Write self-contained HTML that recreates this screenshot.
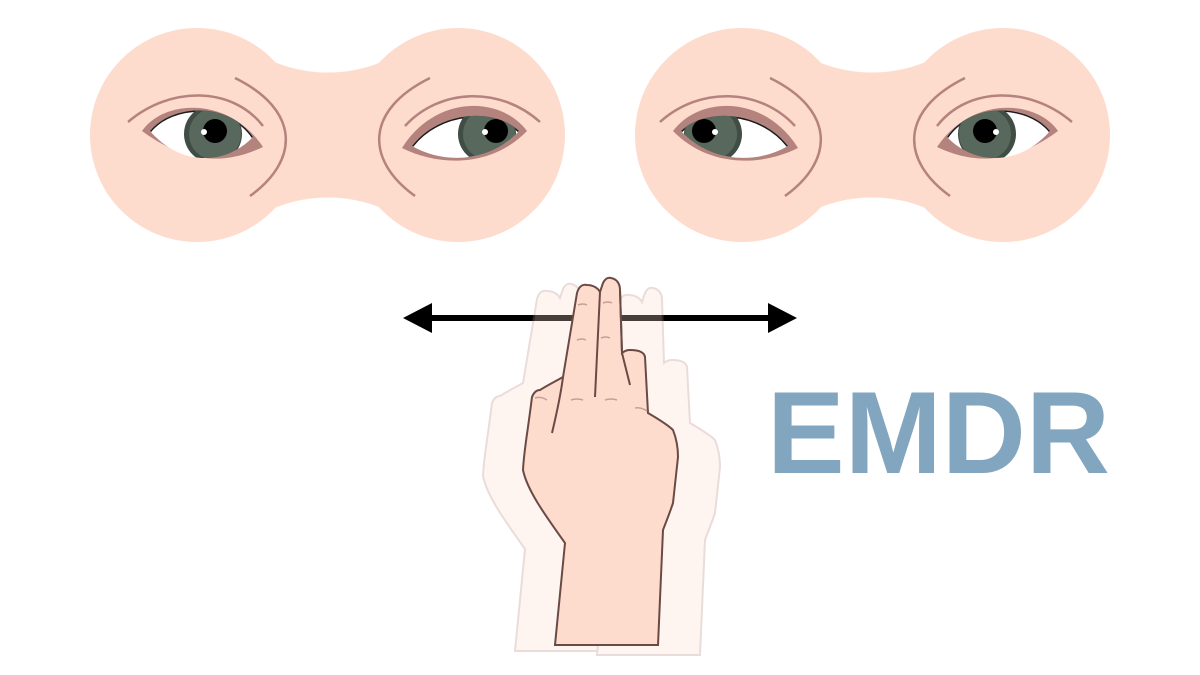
<!DOCTYPE html>
<html><head><meta charset="utf-8"><style>html,body{margin:0;padding:0;background:#fff;width:1200px;height:675px;overflow:hidden}</style></head>
<body>
<svg width="1200" height="675" viewBox="0 0 1200 675" xmlns="http://www.w3.org/2000/svg">
<defs>
<clipPath id="w1"><path d="M150,131 C172,104 228,101 253,137 C225,166 180,166 150,131 Z"/></clipPath>
<clipPath id="w2"><path d="M412,146 C440,110 495,108 519,131 C490,162 445,165 412,146 Z"/></clipPath>
<g id="mask">
<circle cx="197" cy="135" r="107" fill="#fddccd"/>
<circle cx="458" cy="135" r="107" fill="#fddccd"/>
<path d="M238,38 C285,84 371,84 418,38 L418,232 C371,186 285,186 238,232 Z" fill="#fddccd"/>
<!-- left eye -->
<path d="M128,122 C170,86 232,86 263,126" fill="none" stroke="#b5837d" stroke-width="2.5"/>
<path d="M235,78 C300,110 300,160 250,196" fill="none" stroke="#b5837d" stroke-width="2.5"/>
<path d="M142,131 C163,100 228,95 263,147 C235,160 195,170 142,131 Z" fill="#b5837d"/>
<path d="M150,131 C172,104 228,101 253,137 C225,166 180,166 150,131 Z" fill="#fff"/>
<g clip-path="url(#w1)">
<path d="M150,131 C172,104 228,101 253,137" fill="none" stroke="#1a1a1a" stroke-width="3"/>
<circle cx="213" cy="134" r="29" fill="#3f4d44"/>
<circle cx="215" cy="134" r="26" fill="#59685d"/>
<circle cx="215" cy="131" r="12" fill="#000"/>
<circle cx="204" cy="132" r="3" fill="#fff"/>
</g>
<!-- right eye -->
<path d="M405,126 C440,88 500,86 540,122" fill="none" stroke="#b5837d" stroke-width="2.5"/>
<path d="M430,78 C365,110 365,160 415,196" fill="none" stroke="#b5837d" stroke-width="2.5"/>
<path d="M402,148 C435,95 500,95 527,131 C492,167 440,167 402,148 Z" fill="#b5837d"/>
<path d="M412,146 C440,110 495,108 519,131 C490,162 445,165 412,146 Z" fill="#fff"/>
<g clip-path="url(#w2)">
<path d="M412,146 C440,110 495,108 519,131" fill="none" stroke="#1a1a1a" stroke-width="3"/>
<circle cx="487" cy="134" r="29" fill="#3f4d44"/>
<circle cx="489" cy="134" r="26" fill="#59685d"/>
<circle cx="496" cy="131" r="12" fill="#000"/>
<circle cx="485" cy="132" r="3" fill="#fff"/>
</g>
</g>
<path id="hand" d="M555,645 L565,543 C545,515 527,490 523,470 C524,450 527,437 532,397 C534,392 537,390 540,390 C548,385 556,381 563,377 L577,293 C579,286 583,284 587,285 C593,285 598,288 600,292 L603,283 C605,279 608,277 611,278 C617,279 620,284 620,290 L622,353 C626,350 628,350 630,350 C638,350 644,352 645,357 L648,413 C660,420 668,425 673,430 C677,440 678,448 678,457 L673,503 C669,515 666,522 663,530 L658,645 Z"/>
</defs>
<use href="#mask"/>
<use href="#mask" transform="matrix(-1 0 0 1 1200 0)"/>
<line x1="425" y1="318" x2="775" y2="318" stroke="#000" stroke-width="6"/>
<polygon points="403,318 432,303 432,333" fill="#000"/>
<polygon points="797,318 768,303 768,333" fill="#000"/>
<g opacity="0.28">
<use href="#hand" transform="translate(-40,6)" fill="#fddccd" stroke="#b5837d" stroke-width="2"/>
<use href="#hand" transform="translate(42,10)" fill="#fddccd" stroke="#b5837d" stroke-width="2"/>
</g>
<use href="#hand" fill="#fddccd" stroke="#6b4a45" stroke-width="2"/>
<g fill="none" stroke="#6b4a45" stroke-width="2">
<path d="M600,292 L595,397"/>
<path d="M620,290 L622,353 L630,385"/>
<path d="M563,377 C560,400 555,420 552,433"/>
</g>
<g fill="none" stroke="#c79f97" stroke-width="1.5">
<path d="M578,305 q5,-2 9,0"/><path d="M603,303 q5,-2 9,0"/>
<path d="M577,340 q5,-2 9,0"/><path d="M601,338 q5,-2 9,0"/>
<path d="M571,400 q6,-2 12,0"/><path d="M605,400 q6,-2 12,0"/>
<path d="M535,398 q6,-2 12,2"/><path d="M635,408 q6,-1 12,3"/>
</g>
<text x="767" y="473" font-family="Liberation Sans, sans-serif" font-weight="bold" font-size="117" fill="#82a6c0" textLength="343" lengthAdjust="spacingAndGlyphs">EMDR</text>
</svg>
</body></html>
